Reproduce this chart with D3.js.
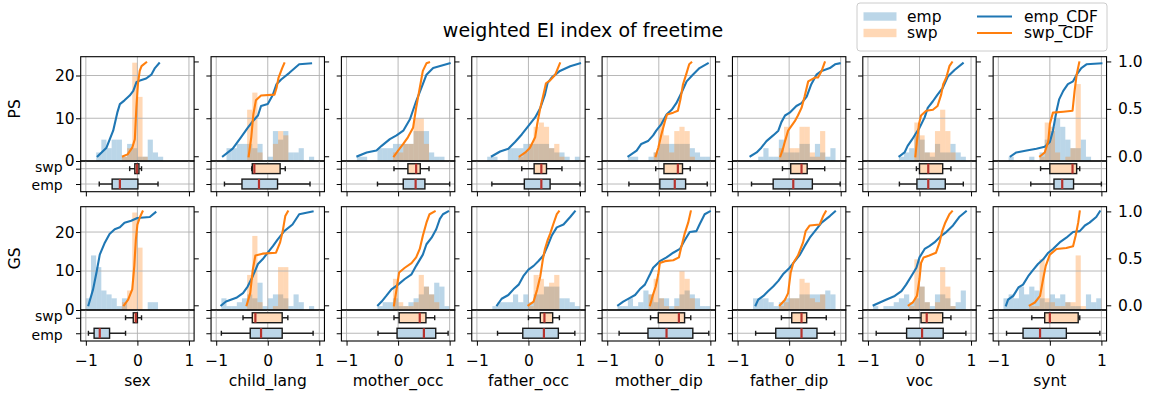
<!DOCTYPE html>
<html>
<head>
<meta charset="utf-8">
<script src="https://cdn.jsdelivr.net/npm/d3@7"></script>
<style>
body{margin:0;background:#fff;}
</style>
</head>
<body>
<div id="chart"></div>
<script>
//weighted EI index of freetime : histogram + CDF + boxplots, two groups x eight variables
var variables=["sex","child_lang","mother_occ","father_occ","mother_dip","father_dip","voc","synt"];
var groups=["PS","GS"];
var BIN=0.1;//histogram bin width
var xTicks=[-1,0,1];
var countTicks=[0,10,20];
var probTicks=[0,0.5,1];
var boxLabels=["emp","swp"];//emp at position 1, swp at position 2

//histograms : [first bin left edge, counts]
var psEmpHist=[
	[-0.8,[2,5,3,5,5,1,4,3,1,1,5,2,1]],
	[-0.8,[3,3,4,4,4,3,4,0,1,7,5,7,2,2,3,0,1]],
	[-0.8,[1,1,0,0,3,3,3,4,4,4,4,7,7,7,2,1,1]],
	[-0.8,[1,1,0,0,3,3,3,4,4,4,4,4,3,2,2,1,0,1]],
	[-0.6,[1,1,0,0,1,2,4,4,4,4,4,4,3,2,1,1]],
	[-0.6,[1,3,1,1,5,2,2,2,4,4,1,4,2,1,3]],
	[-0.4,[1,2,3,6,5,2,1,4,2,2,4,2,1]],
	[-0.8,[1,0,0,0,1,0,2,5,7,10,8,5,3,3,5,1]]
];
var psSwpHist=[
	[-0.3,[1,3,23,15,1]],
	[-0.4,[12,16,2,0,0,4,7,6]],
	[-0.1,[2,2,4,4,10,10,4]],
	[-0.2,[1,2,4,8,9,8,3,4,1]],
	[-0.1,[2,10,6,2,7,8,7,1]],
	[-0.2,[3,8,3,3,8,8,2,1,7]],
	[-0.1,[9,6,2,2,7,12,7,2]],
	[-0.2,[1,9,8,2,0,1,3,18]]
];
var gsEmpHist=[
	[-1.0,[3,14,11,5,4,3,1,3,0,0,0,0,2,2]],
	[-0.9,[3,1,1,2,3,4,3,7,1,3,4,4,3,1,4,2,0,1]],
	[-0.4,[1,2,2,3,1,1,2,3,4,6,4,7,6,1]],
	[-0.7,[1,2,2,2,4,2,4,2,4,4,6,6,6,3,3,2,1]],
	[-0.8,[1,1,3,1,2,5,4,2,3,3,1,3,4,5,4,3,1,1]],
	[-0.7,[3,3,3,2,1,2,3,3,3,4,4,4,4,4,5,4]],
	[-0.9,[1,0,1,1,2,3,4,2,3,6,2,1,4,4,3,1,2,5]],
	[-0.9,[3,4,3,6,4,6,5,3,2,4,3,4,2,1,1,0,4,2,3]]
];
var gsSwpHist=[
	[-0.3,[2,5,25,16]],
	[-0.4,[9,19,2,0,0,1,11,11]],
	[-0.1,[8,2,1,1,2,9,6,4,2]],
	[0.0,[1,9,8,6,7,9]],
	[-0.2,[4,8,3,1,0,1,10,8,3]],
	[-0.2,[1,2,3,3,8,7,3,2,4]],
	[-0.2,[1,13,6,2,0,2,11,6,1]],
	[-0.4,[1,1,13,3,2,1,1,2,2,14,1]]
];

//cumulative distributions : [x, cdf] points
var psEmpCdf=[
	[[-0.77,0],[-0.6,0.09],[-0.47,0.27],[-0.39,0.46],[-0.34,0.55],[-0.25,0.59],[-0.15,0.64],[-0.08,0.69],[-0.02,0.78],[0.05,0.8],[0.17,0.82],[0.27,0.86],[0.34,0.93],[0.42,0.98]],
	[[-0.87,0],[-0.68,0.08],[-0.52,0.2],[-0.39,0.3],[-0.29,0.37],[-0.19,0.43],[-0.13,0.53],[0,0.55],[0.1,0.65],[0.17,0.76],[0.26,0.81],[0.42,0.88],[0.61,0.97],[0.84,0.98]],
	[[-0.79,0],[-0.61,0.04],[-0.42,0.06],[-0.32,0.11],[-0.16,0.18],[-0.03,0.22],[0.1,0.27],[0.23,0.39],[0.35,0.58],[0.48,0.76],[0.55,0.86],[0.68,0.93],[1.0,0.98]],
	[[-0.71,0],[-0.55,0.05],[-0.39,0.08],[-0.26,0.15],[-0.13,0.23],[0,0.32],[0.13,0.41],[0.23,0.51],[0.32,0.65],[0.37,0.77],[0.45,0.83],[0.61,0.9],[0.81,0.95],[1.0,0.98]],
	[[-0.59,0],[-0.43,0.06],[-0.34,0.13],[-0.21,0.16],[-0.11,0.22],[-0.05,0.27],[0.05,0.34],[0.15,0.44],[0.25,0.49],[0.34,0.56],[0.44,0.67],[0.54,0.79],[0.66,0.86],[0.79,0.93],[0.95,0.98]],
	[[-0.75,0],[-0.63,0.04],[-0.54,0.09],[-0.44,0.16],[-0.31,0.22],[-0.21,0.27],[-0.15,0.36],[-0.08,0.43],[0.01,0.46],[0.14,0.53],[0.24,0.56],[0.34,0.63],[0.43,0.76],[0.53,0.86],[0.63,0.9],[0.79,0.93],[0.89,0.97],[0.98,0.98]],
	[[-0.39,0],[-0.29,0.04],[-0.23,0.11],[-0.14,0.18],[-0.06,0.25],[0,0.3],[0.1,0.41],[0.16,0.51],[0.26,0.58],[0.35,0.65],[0.45,0.72],[0.55,0.84],[0.68,0.91],[0.84,0.98]],
	[[-0.76,0],[-0.65,0.04],[-0.45,0.06],[-0.26,0.08],[-0.1,0.1],[0,0.15],[0.06,0.27],[0.13,0.48],[0.18,0.6],[0.26,0.69],[0.35,0.76],[0.45,0.79],[0.52,0.86],[0.61,0.93],[0.71,0.97],[1.0,0.98]]
];
var psSwpCdf=[
	[[-0.28,0],[-0.19,0.02],[-0.1,0.09],[-0.05,0.18],[-0.02,0.51],[0.01,0.76],[0.045,0.9],[0.08,0.95],[0.17,0.99]],
	[[-0.37,0],[-0.32,0.2],[-0.28,0.44],[-0.23,0.59],[-0.13,0.64],[0.13,0.65],[0.17,0.72],[0.21,0.83],[0.28,0.93],[0.32,0.98]],
	[[-0.08,0],[0,0.06],[0.1,0.13],[0.19,0.2],[0.29,0.3],[0.35,0.51],[0.42,0.72],[0.48,0.9],[0.55,0.98],[0.6,0.99]],
	[[-0.17,0],[-0.06,0.04],[0.03,0.09],[0.13,0.2],[0.17,0.34],[0.23,0.51],[0.29,0.65],[0.34,0.77],[0.42,0.8],[0.52,0.86],[0.61,0.98]],
	[[-0.06,0],[-0.01,0.09],[0.05,0.23],[0.12,0.37],[0.16,0.44],[0.28,0.46],[0.37,0.48],[0.42,0.6],[0.47,0.76],[0.54,0.88],[0.59,0.97],[0.63,0.99]],
	[[-0.17,0],[-0.12,0.08],[-0.08,0.16],[-0.02,0.27],[0.11,0.37],[0.17,0.43],[0.24,0.51],[0.3,0.63],[0.37,0.79],[0.5,0.83],[0.56,0.83],[0.63,0.9],[0.69,0.99]],
	[[-0.08,0],[-0.05,0.16],[-0.01,0.34],[0.03,0.43],[0.13,0.48],[0.26,0.49],[0.35,0.53],[0.42,0.65],[0.46,0.76],[0.52,0.83],[0.58,0.95],[0.63,0.99]],
	[[-0.19,0],[-0.1,0.04],[-0.03,0.16],[0,0.34],[0.06,0.46],[0.26,0.47],[0.44,0.48],[0.48,0.69],[0.52,0.86],[0.57,0.99]]
];
var gsEmpCdf=[
	[[-0.95,0],[-0.86,0.17],[-0.79,0.36],[-0.73,0.54],[-0.63,0.67],[-0.54,0.76],[-0.44,0.81],[-0.34,0.83],[-0.25,0.88],[-0.12,0.9],[0,0.93],[0.24,0.94],[0.35,0.99]],
	[[-0.9,0],[-0.81,0.04],[-0.61,0.08],[-0.48,0.13],[-0.39,0.2],[-0.29,0.31],[-0.19,0.44],[-0.1,0.49],[0,0.56],[0.1,0.63],[0.19,0.7],[0.32,0.79],[0.48,0.86],[0.61,0.97],[0.87,1.0]],
	[[-0.39,0],[-0.32,0.04],[-0.23,0.1],[-0.13,0.17],[0,0.22],[0.13,0.28],[0.26,0.33],[0.35,0.42],[0.48,0.54],[0.55,0.65],[0.65,0.72],[0.74,0.81],[0.81,0.92],[0.87,0.97],[0.97,1.0]],
	[[-0.61,0],[-0.52,0.07],[-0.39,0.11],[-0.29,0.17],[-0.19,0.22],[-0.1,0.31],[0,0.38],[0.1,0.42],[0.19,0.47],[0.29,0.53],[0.37,0.63],[0.45,0.74],[0.55,0.83],[0.68,0.86],[0.81,0.94],[0.9,1.0]],
	[[-0.79,0],[-0.69,0.04],[-0.56,0.08],[-0.46,0.11],[-0.37,0.17],[-0.27,0.22],[-0.17,0.33],[-0.11,0.4],[0.02,0.47],[0.15,0.51],[0.28,0.56],[0.41,0.6],[0.5,0.69],[0.6,0.78],[0.73,0.79],[0.79,0.86],[0.89,0.97],[0.99,1.0]],
	[[-0.65,0],[-0.6,0.06],[-0.5,0.1],[-0.41,0.15],[-0.31,0.2],[-0.21,0.26],[-0.12,0.33],[0.01,0.4],[0.11,0.47],[0.21,0.54],[0.3,0.63],[0.4,0.72],[0.5,0.79],[0.63,0.88],[0.79,0.95],[0.89,1.0]],
	[[-0.89,0],[-0.77,0.03],[-0.65,0.06],[-0.48,0.1],[-0.35,0.15],[-0.26,0.22],[-0.16,0.31],[-0.06,0.4],[0,0.51],[0.1,0.6],[0.19,0.63],[0.29,0.67],[0.42,0.74],[0.52,0.78],[0.65,0.85],[0.77,0.94],[0.9,1.0]],
	[[-0.85,0],[-0.81,0.06],[-0.71,0.1],[-0.61,0.19],[-0.52,0.22],[-0.42,0.31],[-0.32,0.38],[-0.23,0.44],[-0.13,0.49],[-0.03,0.56],[0.06,0.6],[0.19,0.67],[0.32,0.72],[0.45,0.78],[0.58,0.79],[0.68,0.85],[0.77,0.88],[0.9,0.94],[0.97,1.0]]
];
var gsSwpCdf=[
	[[-0.26,0],[-0.18,0.06],[-0.1,0.17],[-0.06,0.42],[-0.03,0.7],[0,0.86],[0.05,0.94],[0.1,1.0]],
	[[-0.41,0],[-0.34,0.13],[-0.29,0.38],[-0.24,0.53],[-0.1,0.55],[0.16,0.56],[0.24,0.67],[0.29,0.79],[0.34,0.95],[0.39,1.0]],
	[[-0.08,0],[-0.03,0.17],[0.02,0.35],[0.13,0.4],[0.26,0.45],[0.35,0.51],[0.42,0.6],[0.48,0.74],[0.55,0.88],[0.61,0.97],[0.71,1.0]],
	[[0,0],[0.1,0.04],[0.17,0.17],[0.23,0.31],[0.28,0.49],[0.32,0.6],[0.37,0.69],[0.42,0.76],[0.48,0.86],[0.55,0.97],[0.59,1.0]],
	[[-0.17,0],[-0.12,0.1],[-0.06,0.2],[-0.01,0.33],[0.02,0.45],[0.12,0.47],[0.28,0.48],[0.39,0.51],[0.44,0.63],[0.5,0.76],[0.57,0.88],[0.62,1.0]],
	[[-0.18,0],[-0.08,0.06],[-0.02,0.13],[0.03,0.35],[0.08,0.45],[0.17,0.53],[0.27,0.67],[0.32,0.79],[0.4,0.85],[0.59,0.86],[0.66,0.95],[0.71,1.0]],
	[[-0.21,0],[-0.13,0.03],[-0.05,0.1],[0,0.28],[0.03,0.45],[0.08,0.51],[0.19,0.53],[0.32,0.56],[0.39,0.67],[0.44,0.79],[0.5,0.88],[0.58,0.97],[0.63,1.0]],
	[[-0.39,0],[-0.29,0.03],[-0.19,0.1],[-0.13,0.28],[-0.08,0.42],[0,0.54],[0.13,0.6],[0.32,0.61],[0.45,0.63],[0.5,0.74],[0.55,0.88],[0.58,1.0]]
];

//boxplots : [whisker low, q1, median, q3, whisker high]
var psEmpBox=[[-0.74,-0.49,-0.34,0.01,0.4],[-0.84,-0.5,-0.17,0.19,0.82],[-0.4,0.1,0.34,0.52,1.0],[-0.71,-0.08,0.25,0.42,1.0],
	[-0.58,0.02,0.31,0.52,0.94],[-0.73,-0.31,0.08,0.45,0.99],[-0.39,-0.05,0.17,0.5,0.85],[-0.37,0.08,0.24,0.46,1.0]];
var psSwpBox=[[-0.15,-0.05,-0.01,0.03,0.08],[-0.31,-0.3,-0.26,0.24,0.34],[-0.08,0.19,0.35,0.43,0.6],[-0.13,0.11,0.25,0.35,0.65],
	[-0.06,0.1,0.37,0.46,0.61],[-0.13,0.03,0.24,0.35,0.69],[-0.06,0,0.17,0.45,0.61],[-0.18,0,0.44,0.52,0.58]];
var gsEmpBox=[[-0.95,-0.84,-0.73,-0.54,-0.23],[-0.9,-0.34,-0.13,0.28,0.88],[-0.39,-0.02,0.5,0.73,0.97],[-0.6,-0.11,0.3,0.58,0.9],
	[-0.77,-0.21,0.15,0.66,0.97],[-0.65,-0.26,0.24,0.54,0.88],[-0.84,-0.25,0.05,0.46,0.9],[-0.84,-0.52,-0.19,0.32,0.97]];
var gsSwpBox=[[-0.23,-0.08,-0.03,0,0.08],[-0.48,-0.3,-0.24,0.28,0.39],[-0.08,0.02,0.42,0.54,0.71],[0,0.23,0.31,0.47,0.6],
	[-0.16,-0.01,0.39,0.5,0.62],[-0.15,0.05,0.24,0.34,0.72],[-0.21,0.03,0.14,0.45,0.61],[-0.35,-0.1,0,0.55,0.58]];

//layout
var W=1154,H=394;
var colLeft=80.7,colStep=130.35,panelW=113.4;
var rowTop=[56.7,206.7],rowMid=[161,310],rowBot=[191.7,341];
var countMax=[24.4,26.5];
var FS=15.5;
var series=[
	{name:"emp",line:"#1f77b4",fill:"#1f77b4",boxFill:"#bcd6e8",hist:[psEmpHist,gsEmpHist],cdf:[psEmpCdf,gsEmpCdf],box:[psEmpBox,gsEmpBox],pos:1},
	{name:"swp",line:"#ff7f0e",fill:"#ff7f0e",boxFill:"#ffd9b7",hist:[psSwpHist,gsSwpHist],cdf:[psSwpCdf,gsSwpCdf],box:[psSwpBox,gsSwpBox],pos:2}
];

var svg=d3.select("#chart").append("svg").attr("width",W).attr("height",H)
	.style("font-family","'DejaVu Sans', sans-serif");
var x=d3.scaleLinear().domain([-1.1,1.1]).range([0,panelW]);

function styleAxis(g){//matplotlib like ticks, no domain path
	g.attr("font-family",null).attr("font-size",FS);
	g.select(".domain").remove();
	g.selectAll(".tick line").attr("stroke","#000").attr("stroke-width",1);
	g.selectAll(".tick text").attr("fill","#000");
}
function gridX(g,h){
	g.selectAll(null).data(xTicks).enter().append("line")
		.attr("x1",function(d){return x(d);}).attr("x2",function(d){return x(d);})
		.attr("y1",0).attr("y2",h)
		.attr("stroke","#b0b0b0").attr("stroke-width",0.9);
}
function gridY(g,vals,scale){
	g.selectAll(null).data(vals).enter().append("line")
		.attr("x1",0).attr("x2",panelW)
		.attr("y1",function(d){return scale(d);}).attr("y2",function(d){return scale(d);})
		.attr("stroke","#b0b0b0").attr("stroke-width",0.9);
}

groups.forEach(function(grp,r){
	var hH=rowMid[r]-rowTop[r],bH=rowBot[r]-rowMid[r];
	var yCount=d3.scaleLinear().domain([0,countMax[r]]).range([hH,0]);
	var yProb=d3.scaleLinear().domain([-0.05,1.05]).range([hH,0]);
	var yBox=d3.scaleLinear().domain([0.5,2.5]).range([bH,0]);
	var boxHalf=(yBox(1)-yBox(1.64))/2;
	var line=d3.line().x(function(d){return x(d[0]);}).y(function(d){return yProb(d[1]);});
	variables.forEach(function(v,c){
		var left=colLeft+c*colStep;
		var first=(c==0),last=(c==variables.length-1);
		//histogram axes
		var ha=svg.append("g").attr("transform","translate("+left+","+rowTop[r]+")");
		series.forEach(function(s){
			var h=s.hist[r][c],x0=h[0];
			ha.selectAll(null).data(h[1]).enter().append("rect")
				.attr("x",function(d,i){return x(x0+i*BIN);})
				.attr("width",function(d,i){return x(x0+(i+1)*BIN)-x(x0+i*BIN);})
				.attr("y",function(d){return yCount(d);})
				.attr("height",function(d){return hH-yCount(d);})
				.attr("fill",s.fill).attr("fill-opacity",0.3);
		});
		gridX(ha,hH);
		gridY(ha,countTicks,yCount);
		series.forEach(function(s){
			ha.append("path").datum(s.cdf[r][c]).attr("d",line)
				.attr("fill","none").attr("stroke",s.line).attr("stroke-width",2.1)
				.attr("stroke-linejoin","round").attr("stroke-linecap","square");
		});
		ha.append("g").call(d3.axisLeft(yCount).tickValues(countTicks).tickSize(4.7).tickPadding(1.3)
			.tickFormat(first?d3.format("d"):function(){return "";})).call(styleAxis);
		ha.append("g").attr("transform","translate("+panelW+",0)")
			.call(d3.axisRight(yProb).tickValues(probTicks).tickSize(4.7).tickPadding(6.8)
			.tickFormat(last?d3.format(".1f"):function(){return "";})).call(styleAxis);
		ha.append("rect").attr("width",panelW).attr("height",hH)
			.attr("fill","none").attr("stroke","#000").attr("stroke-width",1.1);
		if(first){
			ha.append("text").attr("transform","translate(-66,"+(hH/2)+") rotate(-90)")
				.attr("text-anchor","middle").attr("dominant-baseline","central")
				.attr("font-size",FS).text(grp);
		}
		//boxplot axes
		var ba=svg.append("g").attr("transform","translate("+left+","+rowMid[r]+")");
		gridX(ba,bH);
		gridY(ba,[1,2],yBox);
		series.forEach(function(s){
			var b=s.box[r][c],cy=yBox(s.pos);
			var bg=ba.append("g");
			bg.selectAll(null).data([[b[0],b[1]],[b[3],b[4]]]).enter().append("line")
				.attr("x1",function(d){return x(d[0]);}).attr("x2",function(d){return x(d[1]);})
				.attr("y1",cy).attr("y2",cy).attr("stroke","#1a1a1a").attr("stroke-width",1.4);
			bg.selectAll(null).data([b[0],b[4]]).enter().append("line")
				.attr("x1",function(d){return x(d);}).attr("x2",function(d){return x(d);})
				.attr("y1",cy-boxHalf/2).attr("y2",cy+boxHalf/2).attr("stroke","#1a1a1a").attr("stroke-width",1.4);
			bg.append("rect").attr("x",x(b[1])).attr("width",x(b[3])-x(b[1]))
				.attr("y",cy-boxHalf).attr("height",2*boxHalf)
				.attr("fill",s.boxFill).attr("stroke","#1a1a1a").attr("stroke-width",1.4);
			bg.append("line").attr("x1",x(b[2])).attr("x2",x(b[2]))
				.attr("y1",cy-boxHalf).attr("y2",cy+boxHalf)
				.attr("stroke","#b5332e").attr("stroke-width",2.2);
		});
		var bAxis=ba.append("g").call(d3.axisLeft(yBox).tickValues([1,2]).tickSize(4.7).tickPadding(13.3)
			.tickFormat(function(d){return first?boxLabels[d-1]:"";})).call(styleAxis)
			.attr("font-size",14);
		//nudge the two category labels apart a little so they do not collide
		bAxis.selectAll(".tick text").attr("dy",function(d){return d==2?"0.22em":"0.42em";});
		ba.append("g").attr("transform","translate(0,"+bH+")")
			.call(d3.axisBottom(x).tickValues(xTicks).tickSize(4.7).tickPadding(9)
			.tickFormat(r==groups.length-1?d3.format("d"):function(){return "";})).call(styleAxis);
		ba.append("rect").attr("width",panelW).attr("height",bH)
			.attr("fill","none").attr("stroke","#000").attr("stroke-width",1.1);
		if(r==groups.length-1){
			ba.append("text").attr("x",panelW/2).attr("y",bH+45)
				.attr("text-anchor","middle").attr("font-size",FS).text(v);
		}
	});
});

//title
svg.append("text").attr("x",583).attr("y",37).attr("text-anchor","middle")
	.attr("font-size",19).text("weighted EI index of freetime");

//legend
var leg=svg.append("g").attr("transform","translate(857,3)");
leg.append("rect").attr("width",250).attr("height",48).attr("rx",3)
	.attr("fill","#fff").attr("fill-opacity",0.8).attr("stroke","#cccccc").attr("stroke-width",1);
series.forEach(function(s,i){
	var cy=13.5+i*16.5;
	leg.append("rect").attr("x",6.5).attr("y",cy-4.2).attr("width",33).attr("height",8.4)
		.attr("fill",s.fill).attr("fill-opacity",0.3);
	leg.append("text").attr("x",50).attr("y",cy).attr("dominant-baseline","central")
		.attr("font-size",FS).text(s.name);
	leg.append("line").attr("x1",120).attr("x2",155).attr("y1",cy).attr("y2",cy)
		.attr("stroke",s.line).attr("stroke-width",2.1);
	leg.append("text").attr("x",167).attr("y",cy).attr("dominant-baseline","central")
		.attr("font-size",FS).text(s.name+"_CDF");
});
</script>
</body>
</html>
